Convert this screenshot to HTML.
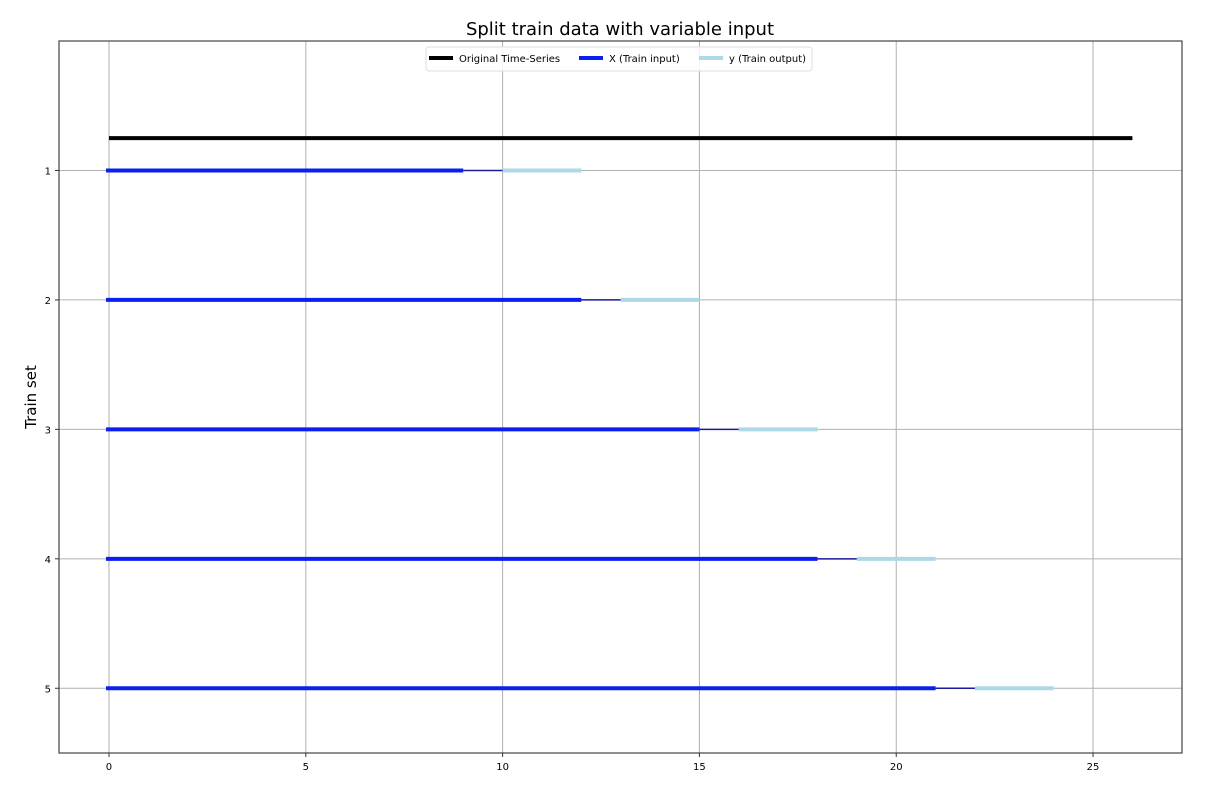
<!DOCTYPE html>
<html><head><meta charset="utf-8"><style>
body{margin:0;background:#fff;}
svg text{font-family:"DejaVu Sans","Liberation Sans",sans-serif;}
</style></head><body>
<svg id="chart" width="1206" height="798" xmlns="http://www.w3.org/2000/svg">
<rect width="1206" height="798" fill="#fff"/>
<text x="620" y="35" font-size="18" text-anchor="middle">Split train data with variable input</text>
<text x="36" y="397" font-size="15" text-anchor="middle" transform="rotate(-90 36 397)">Train set</text>
<g id="grid"></g>
<g id="marks"></g>
<rect x="59" y="41" width="1123" height="712" fill="none" stroke="#444" stroke-width="1.2"/>
<g id="ticks"></g>
<g>
<rect x="426" y="47" width="386" height="24" rx="3" fill="#fff" fill-opacity="0.85" stroke="#ddd"/>
<line x1="429" y1="58" x2="453" y2="58" stroke="#000" stroke-width="4"/>
<text x="459" y="62" font-size="10">Original Time-Series</text>
<line x1="579" y1="58" x2="603" y2="58" stroke="#0a1ff0" stroke-width="4"/>
<text x="609" y="62" font-size="10">X (Train input)</text>
<line x1="699" y1="58" x2="723" y2="58" stroke="#add8e6" stroke-width="4"/>
<text x="729" y="62" font-size="10">y (Train output)</text>
</g>
</svg>
<script>
const sets=[1,2,3,4,5];
const inputEnd=[9,12,15,18,21];
const gapEnd=[10,13,16,19,22];
const outputEnd=[12,15,18,21,24];
const originalStart=0, originalEnd=26, originalRow=0.75;
const xTicks=[0,5,10,15,20,25];
const yTicks=[1,2,3,4,5];
const X0=59,X1=1182,Y0=41,Y1=753;
const xmin=-1.27,xmax=27.26,ymin=0,ymax=5.5;
const sx=v=>X0+(v-xmin)/(xmax-xmin)*(X1-X0);
const sy=v=>Y0+(v-ymin)/(ymax-ymin)*(Y1-Y0);
const NS="http://www.w3.org/2000/svg";
function mk(parent,tag,attrs){const e=document.createElementNS(NS,tag);for(const k in attrs)e.setAttribute(k,attrs[k]);document.getElementById(parent).appendChild(e);return e;}
xTicks.forEach(t=>{
 let g=mk('grid','line',{x1:sx(t),x2:sx(t),y1:Y0,y2:Y1,stroke:'#b0b0b0','stroke-width':1});
 
 
 mk('ticks','line',{x1:sx(t),x2:sx(t),y1:Y1,y2:Y1+4,stroke:'#333'});
 let l=mk('ticks','text',{x:sx(t),y:Y1+17,'font-size':10,'text-anchor':'middle'});l.textContent=t;
 
 
});
yTicks.forEach(t=>{
 let g=mk('grid','line',{x1:X0,x2:X1,y1:sy(t),y2:sy(t),stroke:'#b0b0b0','stroke-width':1});
 
 
 mk('ticks','line',{x1:X0-4,x2:X0,y1:sy(t),y2:sy(t),stroke:'#333'});
 let l=mk('ticks','text',{x:X0-8,y:sy(t)+4,'font-size':10,'text-anchor':'end'});l.textContent=t;
 
 
});
let o=mk('marks','line',{x1:sx(originalStart),x2:sx(originalEnd),y1:sy(originalRow),y2:sy(originalRow),stroke:'#000','stroke-width':4});


sets.forEach((s,i)=>{
 let a=mk('marks','line',{x1:sx(0)-3,x2:sx(inputEnd[i]),y1:sy(s),y2:sy(s),stroke:'#0a1ff0','stroke-width':4});
 
 
 let b=mk('marks','line',{x1:sx(inputEnd[i]),x2:sx(gapEnd[i]),y1:sy(s),y2:sy(s),stroke:'#1a1a9a','stroke-width':1.5});
 
 
 let c=mk('marks','line',{x1:sx(gapEnd[i]),x2:sx(outputEnd[i]),y1:sy(s),y2:sy(s),stroke:'#add8e6','stroke-width':4});
 
 
});
</script>
</body></html>
